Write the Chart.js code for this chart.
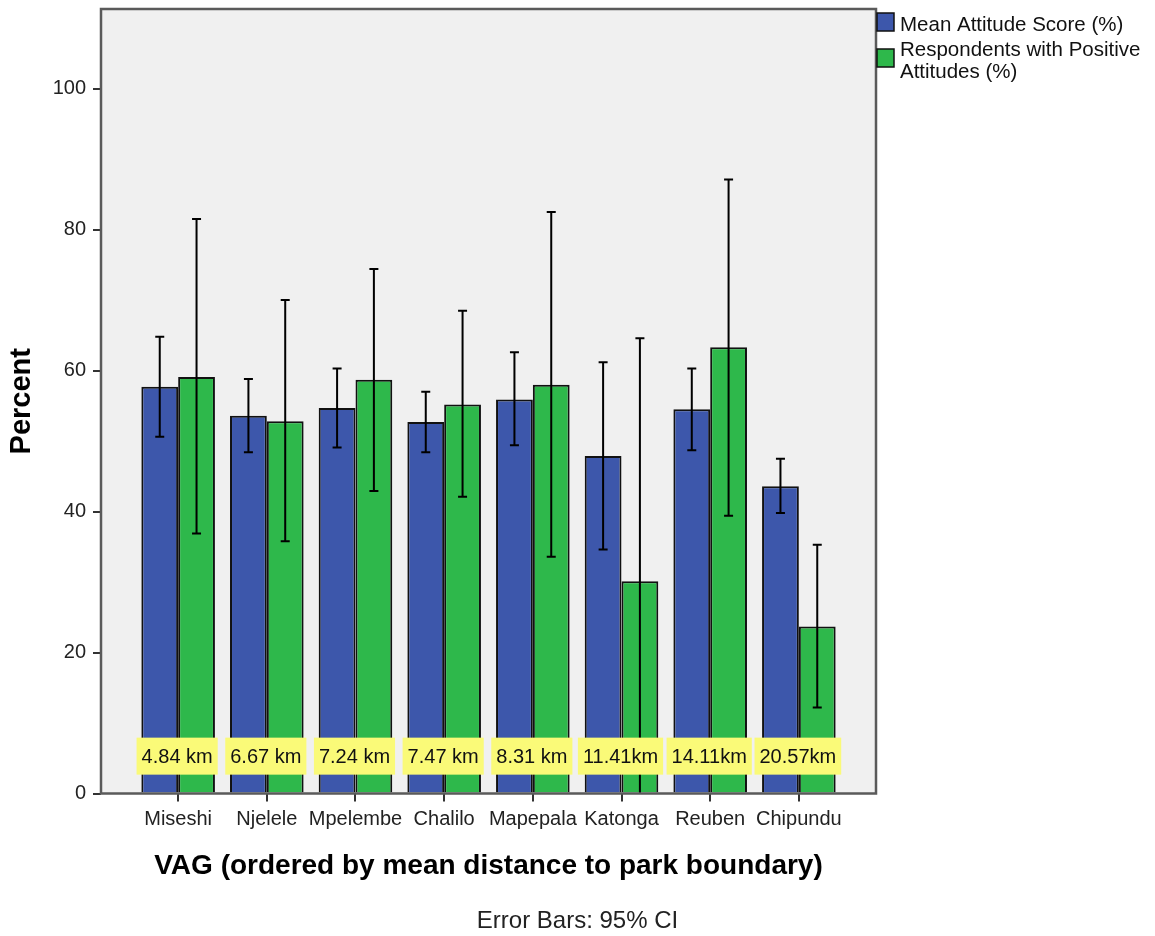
<!DOCTYPE html>
<html>
<head>
<meta charset="utf-8">
<script src="https://cdn.jsdelivr.net/npm/chart.js@4.4.1/dist/chart.umd.min.js"></script>
<style>
  html, body { margin: 0; padding: 0; background: #fff; }
</style>
</head>
<body>
<canvas id="chart" width="1155" height="936"></canvas>
<script>
// data
const categories = ['Miseshi', 'Njelele', 'Mpelembe', 'Chalilo', 'Mapepala', 'Katonga', 'Reuben', 'Chipundu'];
const distanceLabels = ['4.84 km', '6.67 km', '7.24 km', '7.47 km', '8.31 km', '11.41km', '14.11km', '20.57km'];
const meanScore = [57.7, 53.6, 54.7, 52.7, 55.9, 47.9, 54.5, 43.6];
const meanScoreLow = [50.6, 48.4, 49.1, 48.4, 49.4, 34.6, 48.7, 39.8];
const meanScoreHigh = [64.8, 58.8, 60.3, 57.0, 62.6, 61.2, 60.3, 47.5];
const positive = [59.1, 52.8, 58.7, 55.2, 58.0, 30.1, 63.3, 23.7];
const positiveLow = [36.9, 35.8, 42.9, 42.1, 33.6, -4.4, 39.4, 12.2];
const positiveHigh = [81.5, 70.0, 74.4, 68.5, 82.5, 64.6, 87.1, 35.3];
const yTicks = [0, 20, 40, 60, 80, 100];
const seriesNames = ['Mean Attitude Score (%)', 'Respondents with Positive Attitudes (%)'];
const legendLines = [['Mean Attitude Score (%)'], ['Respondents with Positive', 'Attitudes (%)']];
const footnote = 'Error Bars: 95% CI';

const FONT = "'Liberation Sans', Arial, sans-serif";
const BLUE = '#3d57ab';
const GREEN = '#2eb84b';
const ciBounds = [[meanScoreLow, meanScoreHigh], [positiveLow, positiveHigh]];

const spssPlugin = {
  id: 'spss',
  beforeDraw(chart) {
    const { ctx, chartArea: a } = chart;
    ctx.save();
    ctx.fillStyle = '#f0f0f0';
    ctx.fillRect(a.left, a.top, a.right - a.left, a.bottom - a.top);
    ctx.restore();
  },
  afterDatasetsDraw(chart) {
    const { ctx, chartArea: a } = chart;
    const y = chart.scales.y;
    const x = chart.scales.x;
    ctx.save();
    // error bars
    ctx.strokeStyle = '#000';
    ctx.lineWidth = 2;
    chart.data.datasets.forEach((ds, di) => {
      const meta = chart.getDatasetMeta(di);
      meta.data.forEach((bar, i) => {
        const lo = Math.min(a.bottom, y.getPixelForValue(ciBounds[di][0][i]));
        const hi = y.getPixelForValue(ciBounds[di][1][i]);
        ctx.beginPath();
        ctx.moveTo(bar.x, lo);
        ctx.lineTo(bar.x, hi);
        ctx.moveTo(bar.x - 4.5, hi);
        ctx.lineTo(bar.x + 4.5, hi);
        if (lo < a.bottom) {
          ctx.moveTo(bar.x - 4.5, lo);
          ctx.lineTo(bar.x + 4.5, lo);
        }
        ctx.stroke();
      });
    });
    // distance boxes
    ctx.font = '20px ' + FONT;
    ctx.textAlign = 'center';
    ctx.textBaseline = 'middle';
    const cy = y.getPixelForValue(5.3);
    distanceLabels.forEach((t, i) => {
      const cx = x.getPixelForValue(i) - 1;
      const w = ctx.measureText(t).width + 10;
      ctx.fillStyle = '#fafa78';
      ctx.fillRect(cx - w / 2, cy - 18.5, w, 37);
      ctx.fillStyle = '#111';
      ctx.fillText(t, cx, cy + 1);
    });
    // frame
    ctx.strokeStyle = '#5a5a5a';
    ctx.lineWidth = 2.5;
    ctx.strokeRect(a.left, a.top, a.right - a.left, a.bottom - a.top);
    // legend
    const colors = [BLUE, GREEN];
    const boxTop = [13, 49];
    const textY = [[25], [50, 72]];
    ctx.textAlign = 'left';
    ctx.font = '20.5px ' + FONT;
    legendLines.forEach((lines, k) => {
      ctx.fillStyle = colors[k];
      ctx.fillRect(a.right + 1, boxTop[k], 17, 18);
      ctx.strokeStyle = '#111';
      ctx.lineWidth = 1.5;
      ctx.strokeRect(a.right + 1, boxTop[k], 17, 18);
      ctx.fillStyle = '#111';
      lines.forEach((ln, j) => ctx.fillText(ln, a.right + 24, textY[k][j]));
    });
    // footnote
    ctx.textAlign = 'center';
    ctx.font = '24px ' + FONT;
    ctx.fillStyle = '#222';
    ctx.fillText(footnote, chart.width / 2, 921);
    ctx.restore();
  }
};

new Chart(document.getElementById('chart'), {
  type: 'bar',
  data: {
    datasets: [
      {
        label: seriesNames[0],
        data: meanScore.map((v, i) => ({ x: i, y: v })),
        backgroundColor: BLUE,
        borderColor: '#111',
        borderWidth: 2
      },
      {
        label: seriesNames[1],
        data: positive.map((v, i) => ({ x: i, y: v })),
        backgroundColor: GREEN,
        borderColor: '#111',
        borderWidth: 2
      }
    ]
  },
  options: {
    responsive: false,
    animation: false,
    devicePixelRatio: 1,
    categoryPercentage: 0.83,
    barPercentage: 1.0,
    layout: { padding: { left: 0, right: 279, top: 9, bottom: 0 } },
    plugins: {
      legend: { display: false },
      tooltip: { enabled: false }
    },
    scales: {
      x: {
        type: 'linear',
        min: -0.87,
        max: 7.87,
        offset: false,
        afterBuildTicks: s => { s.ticks = categories.map((c, i) => ({ value: i })); },
        afterFit: s => { s.height = 142.5; s.paddingLeft = 0; s.paddingRight = 0; },
        ticks: {
          callback: v => categories[v],
          autoSkip: false,
          maxRotation: 0,
          padding: 6,
          color: '#222',
          font: { family: FONT, size: 20 }
        },
        grid: { drawOnChartArea: false, drawTicks: true, tickLength: 8, offset: false, color: '#333', lineWidth: 2 },
        border: { display: false },
        title: {
          display: true,
          text: 'VAG (ordered by mean distance to park boundary)',
          color: '#000',
          font: { family: FONT, size: 28, weight: 'bold' },
          padding: { top: 0, bottom: 53.2 }
        }
      },
      y: {
        min: 0,
        max: 111.3,
        afterBuildTicks: s => { s.ticks = yTicks.map(v => ({ value: v })); },
        afterFit: s => { s.width = 101; s.paddingTop = 0; s.paddingBottom = 0; },
        ticks: {
          padding: 7,
          color: '#222',
          font: { family: FONT, size: 20 }
        },
        grid: { drawOnChartArea: false, drawTicks: true, tickLength: 8, color: '#333', lineWidth: 2 },
        border: { display: false },
        title: {
          display: true,
          text: 'Percent',
          color: '#000',
          font: { family: FONT, size: 29, weight: 'bold' },
          padding: { top: 5, bottom: 0 }
        }
      }
    }
  },
  plugins: [spssPlugin]
});
</script>
</body>
</html>
